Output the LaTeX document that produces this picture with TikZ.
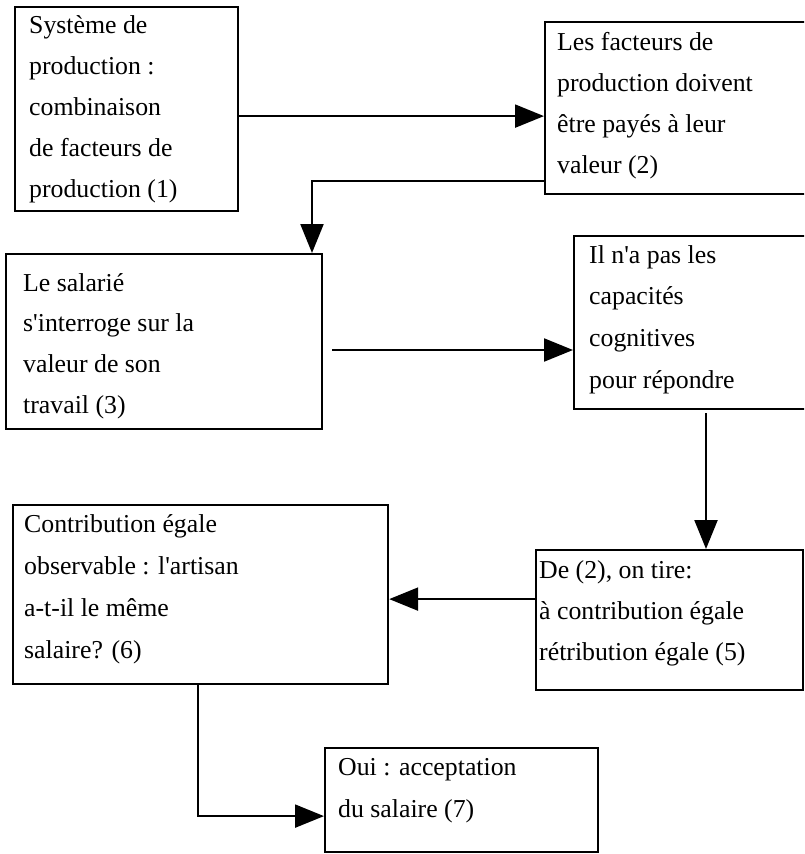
\documentclass[tikz,border=0pt]{standalone}
\usepackage{fontspec}
\setmainfont{Liberation Serif}
\usetikzlibrary{arrows.meta}
\tikzset{
  box/.style={draw, line width=2.2pt, rectangle, inner sep=0pt, anchor=north west},
  txt/.style={anchor=base west, inner sep=0pt, font=\fontsize{25.8}{30}\selectfont},
  arr/.style={line width=2.2pt, -{Triangle[length=29pt,width=23pt]}}
}
\newcommand{\boxtext}[5]{%
  \foreach \t [count=\i from 0] in {#5} {
    \node[txt] (#1-\i) at (#2, #3+#4*\i) {\t};
  }}
\begin{document}
\begin{tikzpicture}[x=1pt,y=-1pt]
\useasboundingbox (0,0) rectangle (804,854);
\clip (0,0) rectangle (804,854);
\fill[white] (0,0) rectangle (804,854);
% boxes
\node[box, minimum width=223pt, minimum height=204pt] (b1) at (14,6) {};
\node[box, minimum width=300pt, minimum height=172pt] (b2) at (544,21) {};
\node[box, minimum width=316pt, minimum height=175pt] (b3) at (5,253) {};
\node[box, minimum width=260pt, minimum height=173pt] (b4) at (573,235) {};
\node[box, minimum width=267pt, minimum height=140pt] (b5) at (535,549) {};
\node[box, minimum width=375pt, minimum height=179pt] (b6) at (12,504) {};
\node[box, minimum width=273pt, minimum height=104pt] (b7) at (324,747) {};
% texts
\boxtext{t1}{29}{33}{41}{Système de, production :, combinaison, de facteurs de, production (1)}
\boxtext{t2}{557}{50}{41.3}{Les facteurs de, production doivent, être payés à leur, valeur (2)}
\boxtext{t3}{23}{291}{40.7}{Le salarié, s\textquotesingle interroge sur la, valeur de son, travail (3)}
\boxtext{t4}{589}{263}{41.7}{Il n\textquotesingle a pas les, capacités, cognitives, pour répondre}
\boxtext{t5}{539}{578}{41}{{De (2), on tire:}, à contribution égale, rétribution égale (5)}
\boxtext{t6}{24}{532}{42.3}{Contribution égale, observable : l\textquotesingle artisan, a-t-il le même, salaire? (6)}
\boxtext{t7}{338}{775}{42}{Oui : acceptation, du salaire (7)}
% connectors
\coordinate (c34) at (332,350);
\coordinate (c45) at (706,413);
\draw[arr] ([yshift=-7pt]b1.east) -- ([yshift=-7pt]b1.east -| b2.west);
\draw[arr] ([yshift=-73pt]b2.west) -| ([xshift=307pt]b3.north west);
\draw[arr] (c34) -- (c34 -| b4.west);
\draw[arr] (c45) -- (c45 |- b5.north);
\draw[arr] ([yshift=21pt]b5.west) -- ([yshift=21pt]b5.west -| b6.east);
\draw[arr] ([xshift=186pt]b6.south west) |- ([yshift=-16pt]b7.west);
\end{tikzpicture}
\end{document}
